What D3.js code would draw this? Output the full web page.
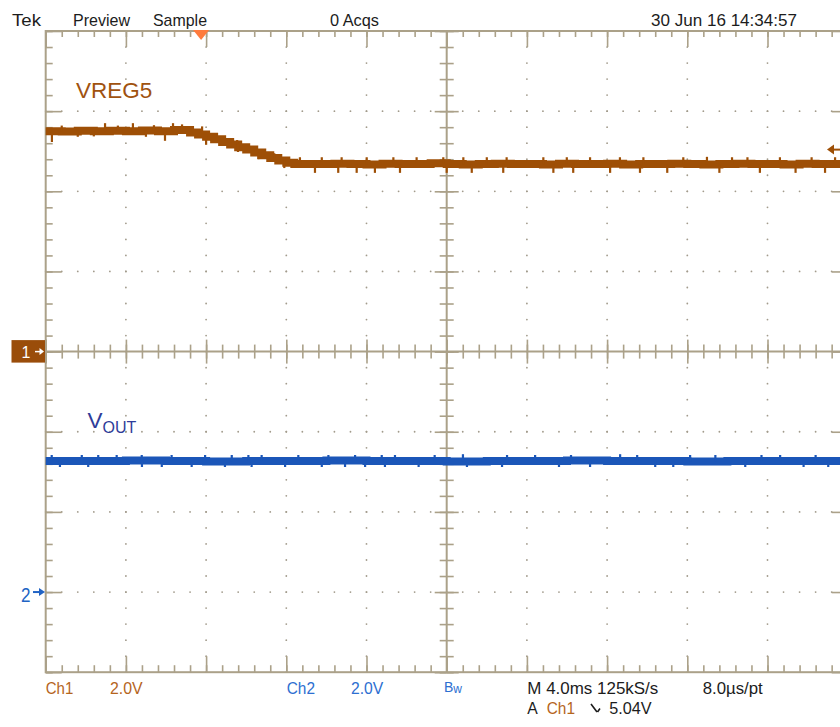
<!DOCTYPE html>
<html>
<head>
<meta charset="utf-8">
<script src="https://cdn.jsdelivr.net/npm/d3@7"></script>
<style>
  body { margin: 0; background: #fff; }
  svg { display: block; }
  text { font-family: "Liberation Sans", Arial, sans-serif; }
</style>
</head>
<body>
<div class="canvas"></div>
<script>
// time in ms (4 ms/div), volts (2 V/div)
const vregTime = [-8, -7.2, -6.4, -5.6, -4.8, -4.0, -3.2, -2.4, -1.6, -0.8,
  -0.4, 0, 0.4, 0.8, 1.2, 1.6, 2.0, 2.4, 2.8, 3.2, 3.6, 4.0, 4.4, 4.8,
  5.6, 6.4, 7.2, 8.0, 8.8, 9.6, 10.4, 11.2, 12.0, 12.8, 13.6, 14.4, 15.2, 16.0, 16.8,
  17.6, 18.4, 19.2, 20.0, 20.8, 21.6, 22.4, 23.2, 24.0, 24.8, 25.6, 26.4, 27.2, 28.0,
  28.8, 29.6, 30.4, 31.2, 32.0];
const vregVolt = [5.50, 5.49, 5.51, 5.50, 5.51, 5.50, 5.52, 5.50, 5.53, 5.47,
  5.42, 5.36, 5.30, 5.23, 5.17, 5.10, 5.04, 4.97, 4.90, 4.83, 4.77, 4.71, 4.68, 4.68,
  4.68, 4.69, 4.68, 4.67, 4.69, 4.68, 4.68, 4.70, 4.68, 4.67, 4.68, 4.69, 4.68, 4.68, 4.67,
  4.69, 4.68, 4.68, 4.69, 4.67, 4.68, 4.68, 4.69, 4.68, 4.67, 4.68, 4.69, 4.68, 4.68,
  4.67, 4.69, 4.68, 4.68, 4.68];
const vregSpikeTime = [-7.69, -7.2, -6.4, -5.6, -5.04, -4.4, -3.65, -3.0, -2.6, -2.05,
  -1.65, -1.2, -0.2, 0.0, 1.55, 1.59, 2.6, 3.4, 3.9,
  4.68, 5.43, 5.77, 6.59, 6.76, 7.51, 8.01, 8.42, 9.34, 9.67, 10.5, 11.83, 12.0,
  12.83, 13.25, 14.0, 14.82, 14.99, 16.82, 17.32, 17.99, 18.31, 19.15, 20.15, 20.64,
  21.64, 21.81, 23.0, 23.8, 24.98, 25.6, 26.23, 27.0, 27.62, 28.62, 29.4, 30.2,
  30.87, 31.37];
const vregSpikeVolt = [5.23, 5.64, 5.36, 5.37, 5.70, 5.64, 5.70, 5.36, 5.65, 5.26,
  5.70, 5.67, 5.62, 5.16, 5.28, 4.98, 4.80, 4.95, 4.58,
  4.85, 4.46, 4.85, 4.46, 4.85, 4.46, 4.85, 4.46, 4.85, 4.46, 4.85, 4.85, 4.46,
  4.85, 4.46, 4.85, 4.46, 4.85, 4.85, 4.46, 4.85, 4.46, 4.85, 4.46, 4.85,
  4.46, 4.85, 4.46, 4.85, 4.86, 4.46, 4.85, 4.85, 4.46, 4.85, 4.46, 4.85,
  4.46, 4.85];

const voutTime = [-8, -6, -4, -2, 0, 2, 4, 6, 8, 10, 12, 14, 16, 18, 20, 22, 24, 26, 28, 30, 32];
const voutVolt = [3.27, 3.27, 3.28, 3.27, 3.26, 3.27, 3.27, 3.28, 3.27, 3.27, 3.26,
  3.27, 3.27, 3.28, 3.27, 3.27, 3.26, 3.27, 3.27, 3.27, 3.27];
const voutSpikeTime = [-7.7, -7.29, -6.2, -5.88, -5.38, -4.46, -3.21, -3.2, -2.21, -1.72,
  -0.72, -0.05, 0.94, 1.28, 2.11, 2.27, 2.77, 3.94, 4.6, 5.77, 6.1, 6.93, 7.43, 7.93,
  8.76, 8.92, 9.42, 10.6, 11.4, 12.81, 13.01, 14.76, 15.01, 16.41, 17.6, 18.2, 19.15,
  20.65, 21.5, 22.4, 23.3, 24.14, 25.4, 26.89, 27.7, 28.63, 29.8, 30.4, 31.03];
const voutSpikeVolt = [3.42, 3.12, 3.42, 3.12, 3.42, 3.42, 3.42, 3.12, 3.12, 3.42,
  3.12, 3.42, 3.12, 3.42, 3.42, 3.12, 3.42, 3.12, 3.42, 3.12, 3.42, 3.12, 3.42, 3.12,
  3.42, 3.12, 3.42, 3.12, 3.42, 3.44, 3.12, 3.12, 3.42, 3.42, 3.12, 3.42, 3.12,
  3.44, 3.42, 3.12, 3.12, 3.42, 3.42, 3.12, 3.42, 3.42, 3.12, 3.42, 3.12];

const triggerTime = -0.25;
const triggerLevel = 5.04;

const headerLabels = ["Tek", "Preview", "Sample", "0 Acqs", "30 Jun 16 14:34:57"];
const headerX = [12, 73, 153, 330, 651];
const headerW = [29, 57, 54, 49, 146];

const width = 840, height = 727;
const gridColor = "#aba189";
const dotColor = "#a29b8c";
const brown = "#9e4f06";
const ch1Text = "#b5651d";
const blue = "#1b56b8";
const ch2Text = "#2d6fd1";

const svg = d3
  .select(".canvas")
  .append("svg")
  .attr("width", width)
  .attr("height", height);

const x = d3.scaleLinear().domain([-8, 32]).range([45.7, 847.7]);
const y1 = d3.scaleLinear().domain([-8, 8]).range([672.2, 31]);
const y2 = d3.scaleLinear().domain([-2, 14]).range([672.2, 31]);

const xMajor = d3.range(0, 11).map((i) => -8 + i * 4);
const xMinor = d3.range(0, 51).map((i) => -8 + i * 0.8);
const yMajor = d3.range(0, 9).map((i) => -8 + i * 2);
const yMinor = d3.range(0, 41).map((i) => -8 + i * 0.4);

// grid dots
const grid = svg.append("g");
const dots = [];
xMajor.slice(1, -1).filter((t) => t !== 12).forEach((t) => {
  yMinor.forEach((v) => dots.push([x(t), y1(v)]));
});
yMajor.slice(1, -1).filter((v) => v !== 0).forEach((v) => {
  xMinor.forEach((t) => dots.push([x(t), y1(v)]));
});
grid
  .selectAll("circle")
  .data(dots)
  .join("circle")
  .attr("cx", (d) => d[0])
  .attr("cy", (d) => d[1])
  .attr("r", 0.9)
  .attr("fill", dotColor);

// frame + centre cross
grid
  .append("rect")
  .attr("x", x(-8))
  .attr("y", y1(8))
  .attr("width", x(32) - x(-8))
  .attr("height", y1(-8) - y1(8))
  .attr("fill", "none")
  .attr("stroke", gridColor)
  .attr("stroke-width", 2);
grid.append("line")
  .attr("x1", x(-8)).attr("x2", x(32))
  .attr("y1", y1(0)).attr("y2", y1(0))
  .attr("stroke", gridColor).attr("stroke-width", 2);
grid.append("line")
  .attr("x1", x(12)).attr("x2", x(12))
  .attr("y1", y1(8)).attr("y2", y1(-8))
  .attr("stroke", gridColor).attr("stroke-width", 2);

function ticks(axis, tx, ty) {
  grid
    .append("g")
    .attr("transform", `translate(${tx},${ty})`)
    .call(axis.tickFormat("").tickSizeOuter(0))
    .call((g) => g.select(".domain").remove())
    .call((g) => g.selectAll("line").attr("stroke", gridColor).attr("stroke-width", 1.6));
}

// frame ticks
ticks(d3.axisBottom(x).tickValues(xMinor).tickSize(6), 0, y1(8));
ticks(d3.axisBottom(x).tickValues(xMajor).tickSize(16), 0, y1(8));
ticks(d3.axisTop(x).tickValues(xMinor).tickSize(7), 0, y1(-8));
ticks(d3.axisTop(x).tickValues(xMajor).tickSize(16), 0, y1(-8));
ticks(d3.axisRight(y1).tickValues(yMinor).tickSize(7), x(-8), 0);
ticks(d3.axisRight(y1).tickValues(yMajor).tickSize(16), x(-8), 0);
ticks(d3.axisLeft(y1).tickValues(yMinor).tickSize(7), x(32), 0);
ticks(d3.axisLeft(y1).tickValues(yMajor).tickSize(16), x(32), 0);
// centre ticks
ticks(d3.axisTop(x).tickValues(xMinor).tickSize(7), 0, y1(0));
ticks(d3.axisBottom(x).tickValues(xMinor).tickSize(7), 0, y1(0));
ticks(d3.axisTop(x).tickValues(xMajor).tickSize(12), 0, y1(0));
ticks(d3.axisBottom(x).tickValues(xMajor).tickSize(12), 0, y1(0));
ticks(d3.axisLeft(y1).tickValues(yMinor).tickSize(7), x(12), 0);
ticks(d3.axisRight(y1).tickValues(yMinor).tickSize(7), x(12), 0);
ticks(d3.axisLeft(y1).tickValues(yMajor).tickSize(12), x(12), 0);
ticks(d3.axisRight(y1).tickValues(yMajor).tickSize(12), x(12), 0);

// traces
function trace(times, volts, sTimes, sVolts, yScale, color) {
  const data = times.map((t, i) => [t, volts[i]]);
  const line = d3
    .line()
    .x((d) => x(d[0]))
    .y((d) => yScale(d[1]))
    .curve(d3.curveStepAfter);
  svg
    .append("path")
    .datum(data)
    .attr("d", line)
    .attr("fill", "none")
    .attr("stroke", color)
    .attr("stroke-width", 8);
  const bisect = d3.bisector((d) => d).right;
  svg
    .append("g")
    .selectAll("line")
    .data(sTimes)
    .join("line")
    .attr("x1", (t) => x(t))
    .attr("x2", (t) => x(t))
    .attr("y1", (t) => yScale(volts[Math.max(0, bisect(times, t) - 1)]))
    .attr("y2", (t, i) => yScale(sVolts[i]))
    .attr("stroke", color)
    .attr("stroke-width", 2.2);
}
trace(vregTime, vregVolt, vregSpikeTime, vregSpikeVolt, y1, brown);
trace(voutTime, voutVolt, voutSpikeTime, voutSpikeVolt, y2, blue);

// trigger position marker
const tx = x(triggerTime);
svg.append("path")
  .attr("d", `M${tx - 8},${y1(8) - 1}L${tx + 8},${y1(8) - 1}L${tx},${y1(8) + 9}Z`)
  .attr("fill", "#ff7b3d");

// trigger level arrow on the right
const ty = y1(triggerLevel);
svg.append("path")
  .attr("d", `M827,${ty}L834,${ty - 5}L834,${ty + 5}Z`)
  .attr("fill", brown);
svg.append("line")
  .attr("x1", 830).attr("x2", 841).attr("y1", ty).attr("y2", ty)
  .attr("stroke", brown).attr("stroke-width", 2);

// channel ground markers
const g1 = y1(0);
svg.append("rect")
  .attr("x", 11.5).attr("y", g1 - 11.5).attr("width", 33.5).attr("height", 22.5)
  .attr("fill", "#9a4d0a");
svg.append("text")
  .attr("x", 21.5).attr("y", g1 + 6.5)
  .attr("font-size", 16).attr("fill", "#fff")
  .text("1");
svg.append("line")
  .attr("x1", 35).attr("x2", 41).attr("y1", g1).attr("y2", g1)
  .attr("stroke", "#fff").attr("stroke-width", 1.5);
svg.append("path")
  .attr("d", `M44,${g1}L39.5,${g1 - 3.5}L39.5,${g1 + 3.5}Z`)
  .attr("fill", "#fff");

const g2 = y2(0);
svg.append("text")
  .attr("x", 21).attr("y", g2 + 9.5)
  .attr("font-size", 20).attr("fill", "#2163c4")
  .attr("textLength", 9.5).attr("lengthAdjust", "spacingAndGlyphs")
  .text("2");
svg.append("line")
  .attr("x1", 33).attr("x2", 41).attr("y1", g2).attr("y2", g2)
  .attr("stroke", "#2163c4").attr("stroke-width", 2);
svg.append("path")
  .attr("d", `M45,${g2}L39,${g2 - 4}L39,${g2 + 4}Z`)
  .attr("fill", "#2163c4");

// trace labels
svg.append("text")
  .attr("x", 76).attr("y", 97.5)
  .attr("font-size", 22.5).attr("fill", "#a0520f")
  .text("VREG5");
const vout = svg.append("text")
  .attr("x", 87.5).attr("y", 427.5)
  .attr("fill", "#2e3c99");
vout.append("tspan").attr("font-size", 22.5).text("V");
vout.append("tspan").attr("font-size", 16).attr("dy", 5.5).text("OUT");

// header
svg.append("g")
  .selectAll("text")
  .data(headerLabels)
  .join("text")
  .attr("x", (d, i) => headerX[i])
  .attr("y", 25.5)
  .attr("font-size", 17)
  .attr("fill", "#1c1c1c")
  .attr("textLength", (d, i) => headerW[i])
  .attr("lengthAdjust", "spacingAndGlyphs")
  .text((d) => d);

// footer readouts
function readout(str, px, py, w, color) {
  svg.append("text")
    .attr("x", px).attr("y", py)
    .attr("font-size", 16.5)
    .attr("fill", color)
    .attr("textLength", w)
    .attr("lengthAdjust", "spacingAndGlyphs")
    .text(str);
}
readout("Ch1", 45.7, 694, 27.6, ch1Text);
readout("2.0V", 110, 694, 32.7, ch1Text);
readout("Ch2", 286.7, 694, 28.3, ch2Text);
readout("2.0V", 351, 694, 32.3, ch2Text);
readout("M 4.0ms 125kS/s", 527.3, 694, 131, "#1c1c1c");
readout("8.0\u00b5s/pt", 702.7, 694, 60, "#1c1c1c");
readout("A", 527.3, 714, 10.5, "#1c1c1c");
readout("Ch1", 546.7, 714, 28.3, ch1Text);
readout("5.04V", 609.3, 714, 42.4, "#1c1c1c");

// falling-edge symbol
svg.append("path")
  .attr("d", "M591,704L597,712M597.5,712L600,708.5")
  .attr("fill", "none")
  .attr("stroke", "#1c1c1c")
  .attr("stroke-width", 1.6);

// bandwidth limit "Bw"
const bw = svg.append("text").attr("x", 444).attr("y", 691.7).attr("fill", ch2Text);
bw.append("tspan").attr("font-size", 14).text("B");
bw.append("tspan").attr("font-size", 12).attr("dy", 1).text("w");
</script>
</body>
</html>
